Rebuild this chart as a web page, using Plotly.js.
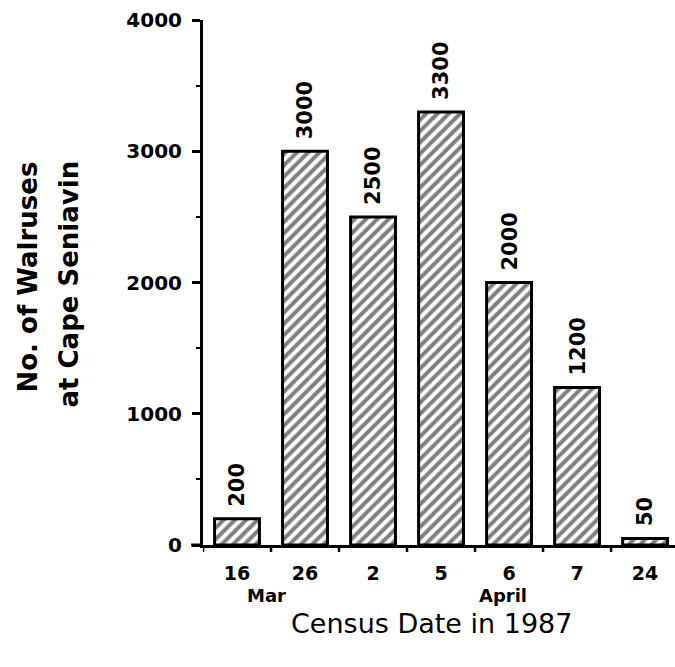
<!DOCTYPE html>
<html>
<head>
<meta charset="utf-8">
<script src="https://cdn.plot.ly/plotly-3.0.1.min.js"></script>
<style>html,body{margin:0;padding:0;background:#fff;}#chart{width:675px;height:667px;}</style>
</head>
<body>
<div id="chart"></div>
<script>
// Data
var dates = ['16', '26', '2', '5', '6', '7', '24'];
var walruses = [200, 3000, 2500, 3300, 2000, 1200, 50];
var barLabels = ['200', '3000', '2500', '3300', '2000', '1200', '50'];
var monthLabels = ['Mar', 'April'];
var monthIndex = [1, 4];
var monthShift = [-39, -6];
var yTicks = [0, 1000, 2000, 3000, 4000];
var yTitleLines = ['No. of Walruses', 'at Cape Seniavin'];
var xTitle = 'Census Date in 1987';

var FONT = 'DejaVu Sans, Arial, sans-serif';
var xs = dates.map(function (d, i) { return i; });

var trace = {
  type: 'bar',
  x: xs,
  y: walruses,
  width: 0.66,
  marker: {
    color: '#fff',
    line: { color: '#000', width: 3 },
    pattern: { shape: '/', fgcolor: '#000', bgcolor: '#fff', size: 8, solidity: 0.5, fillmode: 'overlay' }
  },
  hoverinfo: 'skip'
};

var annotations = monthLabels.map(function (m, k) {
  return {
    text: m, x: monthIndex[k], xref: 'x', y: 0, yref: 'paper',
    yanchor: 'top', xanchor: 'center', yshift: -38, xshift: monthShift[k],
    showarrow: false,
    font: { family: FONT, size: 18, color: '#000', weight: 'bold' }
  };
});

// value labels above bars
annotations = annotations.concat(walruses.map(function (v, i) {
  return {
    text: barLabels[i], x: xs[i], xref: 'x', y: v, yref: 'y',
    xanchor: 'center', yanchor: 'bottom', yshift: 10,
    textangle: -90, showarrow: false,
    font: { family: FONT, size: 21, color: '#000', weight: 'bold' }
  };
}));

// y-axis title lines
var yTitleX = [27, 68];
annotations = annotations.concat(yTitleLines.map(function (t, k) {
  return {
    text: t, xref: 'paper', x: 0, xshift: yTitleX[k] - 203, xanchor: 'center',
    yref: 'paper', y: 0.5, yshift: k === 0 ? 5 : -2, yanchor: 'middle',
    textangle: -90, showarrow: false,
    font: { family: FONT, size: 26, color: '#000', weight: 'bold' }
  };
}));

// x-axis title
annotations.push({
  text: xTitle, xref: 'paper', x: 0, xshift: 431 - 203, xanchor: 'center',
  yref: 'paper', y: 0, yshift: -78, yanchor: 'middle',
  showarrow: false,
  font: { family: FONT, size: 27, color: '#000' }
});

var layout = {
  width: 675, height: 667,
  margin: { l: 203, r: 0, t: 20, b: 122 },
  paper_bgcolor: '#fff', plot_bgcolor: '#fff',
  showlegend: false,
  xaxis: {
    type: 'linear',
    range: [-0.5, 6.44],
    tickmode: 'array',
    tickvals: xs,
    ticktext: dates,
    showgrid: false, zeroline: false,
    showline: true, linecolor: '#000', linewidth: 3,
    ticks: '',
    ticklabelstandoff: 9,
    tickfont: { family: FONT, size: 19, color: '#000', weight: 'bold' },
    fixedrange: true
  },
  yaxis: {
    range: [0, 4000],
    tickmode: 'array',
    tickvals: yTicks,
    ticktext: yTicks.map(String),
    showgrid: false, zeroline: false,
    showline: true, linecolor: '#000', linewidth: 3,
    ticks: 'outside', ticklen: 8, tickwidth: 3, tickcolor: '#000',
    minor: { dtick: 500, tick0: 0, ticks: 'outside', ticklen: 4, tickwidth: 2, tickcolor: '#000' },
    ticklabelstandoff: 6,
    tickfont: { family: FONT, size: 20, color: '#000', weight: 'bold' },
    fixedrange: true
  },
  annotations: annotations,
  shapes: [
    { type: 'line', xref: 'paper', yref: 'paper', x0: -0.025, x1: 0, y0: 0, y1: 0, line: { color: '#000', width: 3 } }
  ].concat(xs.map(function (v) {
    return { type: 'line', xref: 'x', yref: 'paper', x0: v - 0.5, x1: v - 0.5, y0: 0, y1: -7, ysizemode: 'pixel', yanchor: 0, line: { color: '#000', width: 2.5 } };
  }))
};

Plotly.newPlot('chart', [trace], layout, { staticPlot: true, displayModeBar: false });
</script>
</body>
</html>
